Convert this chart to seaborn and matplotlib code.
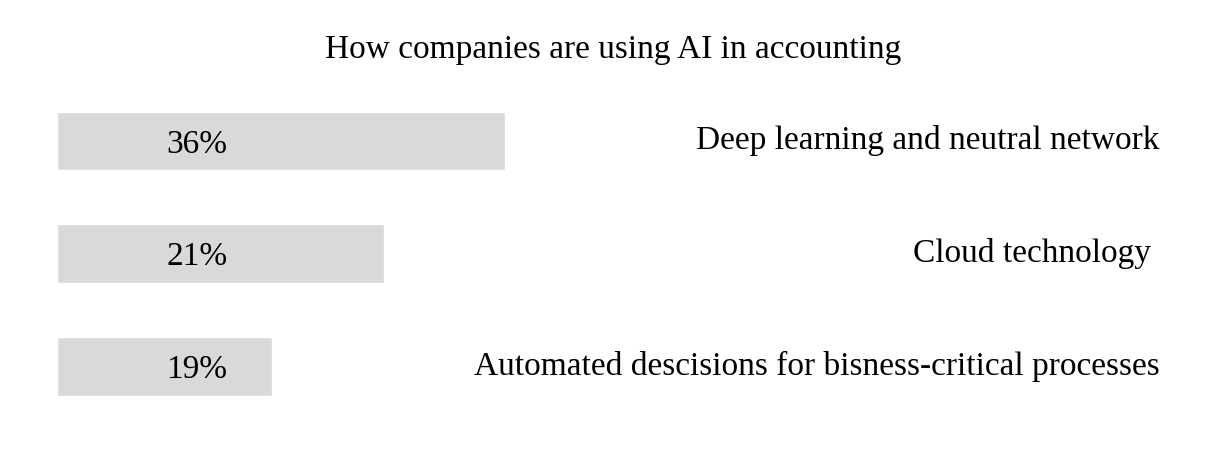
import numpy as np
import pandas as pd
import matplotlib
matplotlib.use("Agg")
import matplotlib.pyplot as plt
import seaborn as sns

# values
categories = ["Deep learning and neutral network",
              "Cloud technology ",
              "Automated descisions for bisness-critical processes"]
pct_labels = ["36%", "21%", "19%"]
# drawn bar lengths (the original bars are not to scale with the labels)
bar_length = [36, 26.3, 17.3]

sns.set_style("white")
plt.rcParams['font.family'] = ['Liberation Serif', 'DejaVu Serif']
plt.rcParams['text.color'] = 'black'

df = pd.DataFrame({"cat": categories, "len": bar_length})

fig = plt.figure(figsize=(12.26, 4.72), dpi=100)
ax = fig.add_axes([0, 0, 1, 1])
sns.barplot(data=df, x="len", y="cat", orient="h", color="#d9d9d9",
            width=0.52, saturation=1, ax=ax)

ax.set_xlim(-4.58, 93.97)
ax.set_ylim(2.936, -1.25)
ax.axis("off")

for i, (p, c) in enumerate(zip(pct_labels, categories)):
    ax.text(11.25, i + 0.03, p, ha="center", va="center", fontsize=24)
    ax.text(0.946, i, c, ha="right", va="center", fontsize=24,
            transform=ax.get_yaxis_transform())

fig.text(0.5, 1 - 50 / 472, "How companies are using AI in accounting",
         ha="center", va="center", fontsize=24)

fig.savefig("out.png", dpi=100)
